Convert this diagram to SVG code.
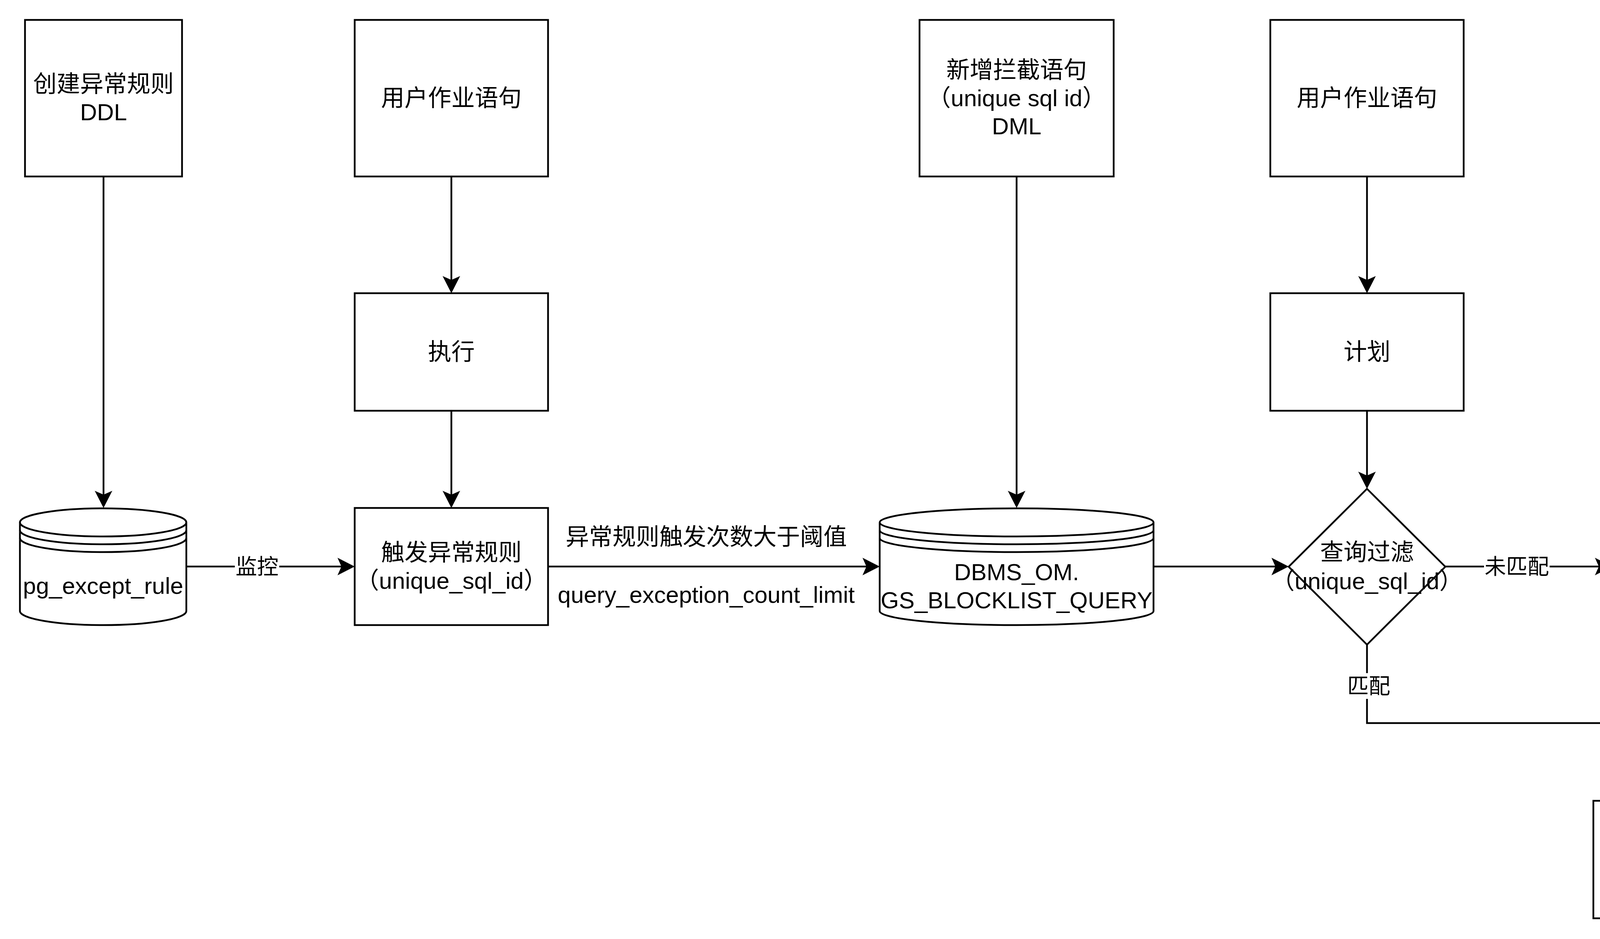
<svg xmlns="http://www.w3.org/2000/svg" width="5550" height="2405" viewBox="0 0 5550 2405">
<style>
.shape{fill:#ffffff;stroke:#000000;stroke-width:4.5}
.line{fill:none;stroke:#000000;stroke-width:4.5;stroke-linejoin:miter}
.arr{marker-end:url(#arrow)}
.t{font-family:"Liberation Sans","Noto Sans CJK SC",sans-serif;font-size:60px;fill:#000000;text-anchor:middle}
.el{font-family:"Liberation Sans","Noto Sans CJK SC",sans-serif;font-size:55px;fill:#000000;text-anchor:middle}
.lbg{fill:#ffffff;stroke:none}
.wm{font-family:"Noto Sans CJK SC","Liberation Sans",sans-serif;font-size:24px;fill:#858585;text-anchor:end}
</style>
<defs>
<marker id="arrow" markerUnits="userSpaceOnUse" viewBox="0 0 44 45" markerWidth="44" markerHeight="45" refX="10" refY="22.5" orient="auto" overflow="visible">
<path d="M0,0 L44,22.5 L0,45 L10,22.5 Z" fill="#000000" stroke="none"/>
</marker>
</defs>
<rect x="0" y="0" width="5550" height="2405" fill="#ffffff"/>

<g id="connectors">
<path class="line arr" d="M265,452 V1267"/>
<path class="line arr" d="M1155.5,452 V717"/>
<path class="line arr" d="M1155.5,1052 V1267"/>
<path class="line arr" d="M477,1451 H874"/>
<path class="line arr" d="M1403,1451 H2218"/>
<path class="line arr" d="M2602.5,452 V1267"/>
<path class="line arr" d="M2953,1451 H3265"/>
<path class="line arr" d="M3499.5,452 V717"/>
<path class="line arr" d="M3499.5,1052 V1218"/>
<path class="line arr" d="M3700,1451 H4093"/>
<path class="line arr" d="M4327,452 V717"/>
<path class="line arr" d="M4327,1052 V1218"/>
<path class="line arr" d="M4527,1451 H4968"/>
<path class="line arr" d="M3499.5,1651 V1852 H4327 V2017"/>
<path class="line arr" d="M4327,1651 V2017"/>
<g id="edge-labels">
<rect class="lbg" x="601" y="1418" width="114" height="66"/>
<text class="el" x="658" y="1470">监控</text>
<text class="t" x="1808" y="1396">异常规则触发次数大于阈值</text>
<text class="t" x="1808" y="1544">query_exception_count_limit</text>
<rect class="lbg" x="3799" y="1418" width="168" height="66"/>
<text class="el" x="3883" y="1470">未匹配</text>
<rect class="lbg" x="4271" y="558" width="112" height="66"/>
<text class="el" x="4327" y="610">写入</text>
<rect class="lbg" x="4647" y="1418" width="168" height="66"/>
<text class="el" x="4731" y="1470">未匹配</text>
<rect class="lbg" x="3448" y="1724" width="112" height="66"/>
<text class="el" x="3504" y="1776">匹配</text>
<rect class="lbg" x="4271" y="1724" width="112" height="66"/>
<text class="el" x="4327" y="1776">匹配</text>
</g>
</g>

<g id="n1">
<rect class="shape" x="64" y="51" width="402" height="401"/>
<text class="t" x="265" y="236">创建异常规则</text>
<text class="t" x="265" y="308">DDL</text>
</g>
<g id="n2">
<rect class="shape" x="908" y="51" width="495" height="401"/>
<text class="t" x="1155.5" y="272">用户作业语句</text>
</g>
<g id="n3">
<rect class="shape" x="908" y="751" width="495" height="301"/>
<text class="t" x="1155.5" y="922">执行</text>
</g>
<g id="n4">
<rect class="shape" x="908" y="1301" width="495" height="300"/>
<text class="t" x="1155.5" y="1436">触发异常规则</text>
<text class="t" x="1155.5" y="1508">（unique_sql_id）</text>
</g>
<g id="n5">
<path class="shape" d="M51,1338 A213,36 0 0 1 477,1338 L477,1565 A213,36 0 0 1 51,1565 Z"/>
<path class="line" d="M51,1338 A213,36 0 0 0 477,1338 M51,1358 A213,36 0 0 0 477,1358 M51,1378 A213,36 0 0 0 477,1378"/>
<text class="t" x="264" y="1521">pg_except_rule</text>
</g>
<g id="n6">
<rect class="shape" x="2354" y="51" width="497" height="401"/>
<text class="t" x="2602.5" y="200">新增拦截语句</text>
<text class="t" x="2602.5" y="272">（unique sql id）</text>
<text class="t" x="2602.5" y="344">DML</text>
</g>
<g id="n7">
<path class="shape" d="M2252,1338 A350.5,36 0 0 1 2953,1338 L2953,1565 A350.5,36 0 0 1 2252,1565 Z"/>
<path class="line" d="M2252,1338 A350.5,36 0 0 0 2953,1338 M2252,1358 A350.5,36 0 0 0 2953,1358 M2252,1378 A350.5,36 0 0 0 2953,1378"/>
<text class="t" x="2602.5" y="1486">DBMS_OM.</text>
<text class="t" x="2602.5" y="1558">GS_BLOCKLIST_QUERY</text>
</g>
<g id="n8">
<rect class="shape" x="3252" y="51" width="495" height="401"/>
<text class="t" x="3499.5" y="272">用户作业语句</text>
</g>
<g id="n9">
<rect class="shape" x="3252" y="751" width="495" height="301"/>
<text class="t" x="3499.5" y="922">计划</text>
</g>
<g id="n10">
<polygon class="shape" points="3499.5,1252 3700,1451.5 3499.5,1651 3299,1451.5"/>
<text class="t" x="3499.5" y="1435">查询过滤</text>
<text class="t" x="3499.5" y="1509">（unique_sql_id）</text>
</g>
<g id="n11">
<rect class="shape" x="4127" y="51" width="400" height="401"/>
<text class="t" x="4327" y="236">创建拦截规则</text>
<text class="t" x="4327" y="308">DDL</text>
</g>
<g id="n12">
<path class="shape" d="M4152,788 A175.5,36 0 0 1 4503,788 L4503,1016 A175.5,36 0 0 1 4152,1016 Z"/>
<path class="line" d="M4152,788 A175.5,36 0 0 0 4503,788 M4152,808 A175.5,36 0 0 0 4503,808 M4152,828 A175.5,36 0 0 0 4503,828"/>
<text class="t" x="4327" y="970">pg_blocklists</text>
</g>
<g id="n13">
<polygon class="shape" points="4327,1252 4527,1451.5 4327,1651 4127,1451.5"/>
<text class="t" x="4327" y="1472">匹配拦截规则</text>
</g>
<g id="n14">
<rect class="shape" x="5002" y="1302" width="495" height="300"/>
<text class="t" x="5249.5" y="1473">正常执行</text>
</g>
<g id="n15">
<rect class="shape" x="4079" y="2051" width="496" height="301"/>
<text class="t" x="4327" y="2222">拦截报错</text>
</g>
<text class="wm" x="5495" y="2346">掘金技术社区 @ 华为云开发者联盟</text>
</svg>
